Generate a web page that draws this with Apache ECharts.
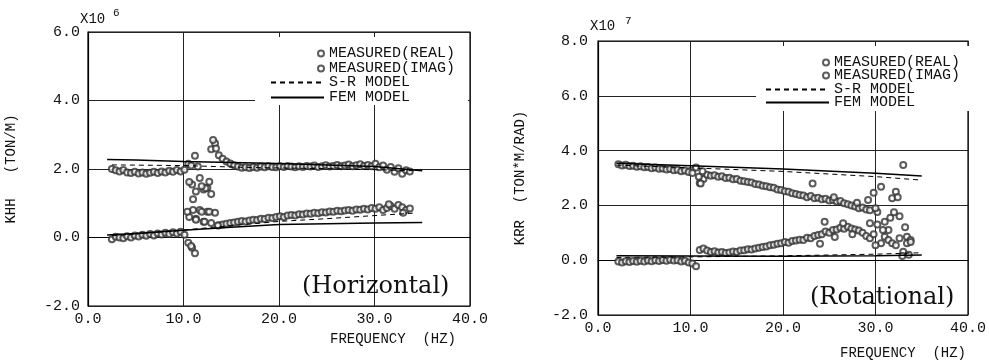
<!DOCTYPE html>
<html><head><meta charset="utf-8">
<script src="https://cdn.jsdelivr.net/npm/echarts@6/dist/echarts.min.js"></script>
<style>html,body{margin:0;padding:0;background:#fff}#c{width:989px;height:364px}</style>
</head><body><div id="c"></div><script>
// ---------- Horizontal panel (KHH, x10^6 TON/M) ----------
const hFreq = [2.5,2.9,3.3,3.7,4.1,4.5,4.9,5.3,5.7,6.1,6.5,6.9,7.3,7.7,8.1,8.5,8.9,9.3,9.7,10.1,10.5,10.9,11.3,11.7,12.1,12.5,12.9,13.3,13.7,14.1,14.5,14.9,15.3,15.7,16.1,16.5,16.9,17.3,17.7,18.1,18.5,18.9,19.3,19.7,20.1,20.5,20.9,21.3,21.7,22.1,22.5,22.9,23.3,23.7,24.1,24.5,24.9,25.3,25.7,26.1,26.5,26.9,27.3,27.7,28.1,28.5,28.9,29.3,29.7,30.1,30.5,30.9,31.3,31.7,32.1,32.5,32.9,33.3,33.7];
const hReal = [2.00,1.96,1.93,1.97,1.90,1.88,1.92,1.87,1.90,1.86,1.89,1.92,1.88,1.93,1.90,1.95,1.92,1.97,1.93,1.98,2.15,1.55,1.34,1.74,1.40,1.45,2.58,2.75,2.40,2.30,2.22,2.16,2.11,2.07,2.04,2.05,2.03,2.06,2.04,2.07,2.05,2.08,2.06,2.05,2.08,2.06,2.09,2.07,2.05,2.08,2.06,2.09,2.07,2.10,2.06,2.08,2.11,2.07,2.09,2.12,2.08,2.10,2.13,2.08,2.11,2.14,2.09,2.12,2.08,2.15,2.05,2.10,1.98,2.06,1.92,2.02,1.86,1.96,1.93];
const hImag = [-0.05,0.02,0.00,-0.02,0.04,0.00,0.06,0.03,0.08,0.05,0.10,0.06,0.12,0.09,0.14,0.10,0.15,0.12,0.17,0.08,-0.15,-0.30,0.55,0.80,0.46,0.75,0.42,0.72,0.36,0.38,0.40,0.42,0.44,0.46,0.48,0.47,0.50,0.52,0.51,0.55,0.54,0.58,0.57,0.60,0.62,0.60,0.64,0.66,0.64,0.68,0.67,0.70,0.69,0.72,0.71,0.74,0.73,0.76,0.75,0.78,0.77,0.79,0.80,0.78,0.82,0.81,0.84,0.82,0.86,0.84,0.88,0.80,0.86,0.92,0.84,0.95,0.88,0.80,0.85];
const hRealExtraF = [10.6,11.0,11.2,11.5,12.3,12.7,12.9,13.1,13.4,10.8,11.9];
const hRealExtraV = [1.62,1.12,2.39,2.07,1.44,1.63,1.27,2.85,2.60,2.10,1.50];
const hImagExtraF = [10.6,11.0,11.2,10.8,11.9,12.2,12.7,10.4,13.6,11.3,31.5,33.0];
const hImagExtraV = [0.60,0.80,-0.46,-0.25,0.75,0.46,0.75,0.75,0.35,0.52,0.97,0.72];
const hSrF = [2.5,10,16,20,25,30,34];
const hSrReal = [2.12,2.10,2.05,2.03,2.01,1.98,1.95];
const hSrImag = [0.05,0.22,0.37,0.47,0.55,0.64,0.71];
const hFemF = [2,5,10,15,20,25,30,35];
const hFemReal = [2.28,2.26,2.22,2.19,2.16,2.12,2.07,1.95];
const hFemImag = [0.07,0.12,0.21,0.30,0.38,0.40,0.42,0.44];

// ---------- Rotational panel (KRR, x10^7 TON*M/RAD) ----------
const rFreq = [2.2,2.6,3.0,3.4,3.8,4.2,4.6,5.0,5.4,5.8,6.2,6.6,7.0,7.4,7.8,8.2,8.6,9.0,9.4,9.8,10.2,10.6,11.0,11.4,11.8,12.2,12.6,13.0,13.4,13.8,14.2,14.6,15.0,15.4,15.8,16.2,16.6,17.0,17.4,17.8,18.2,18.6,19.0,19.4,19.8,20.2,20.6,21.0,21.4,21.8,22.2,22.6,23.0,23.4,23.8,24.2,24.6,25.0,25.4,25.8,26.2,26.6,27.0,27.4,27.8,28.2,28.6,29.0,29.4,29.8,30.2,30.6,31.0,31.4,31.8,32.2,32.6,33.0,33.4,33.8];
const rReal = [3.50,3.46,3.48,3.44,3.45,3.41,3.43,3.39,3.40,3.36,3.38,3.34,3.35,3.31,3.33,3.28,3.30,3.25,3.27,3.22,3.18,3.38,2.82,2.96,3.12,3.08,3.10,3.05,3.06,3.00,3.01,2.95,2.96,2.90,2.88,2.85,2.84,2.78,2.76,2.72,2.70,2.66,2.64,2.58,2.56,2.52,2.50,2.44,2.42,2.38,2.36,2.30,2.34,2.26,2.28,2.22,2.24,2.18,2.20,2.14,2.16,2.08,2.04,2.00,1.96,1.90,1.92,1.85,1.82,2.46,1.76,2.68,1.40,1.10,2.26,2.50,1.60,3.47,0.86,0.74];
const rImag = [-0.05,-0.08,-0.04,-0.07,-0.03,-0.06,-0.02,-0.05,-0.01,-0.04,0.00,-0.03,0.01,-0.02,0.02,-0.01,0.00,-0.05,-0.02,-0.08,-0.12,-0.22,0.37,0.43,0.35,0.30,0.33,0.28,0.30,0.26,0.28,0.32,0.30,0.35,0.36,0.40,0.39,0.43,0.45,0.48,0.50,0.55,0.56,0.60,0.62,0.66,0.64,0.70,0.72,0.75,0.74,0.82,0.80,0.88,0.92,0.95,1.05,1.00,1.10,1.12,1.18,1.15,1.22,1.16,1.12,1.08,1.00,0.88,0.80,0.95,1.30,0.62,0.86,0.74,0.62,0.55,0.80,0.31,0.62,0.66];
const rRealExtraF = [10.9,11.1,11.3,23.2,25.5,28.0,30.0,30.8,31.6,32.4,33.2,29.2,32.0];
const rRealExtraV = [3.05,2.80,3.25,2.80,2.30,2.10,1.90,1.10,1.55,2.30,1.20,2.20,1.75];
const rImagExtraF = [24.5,26.5,29.4,25.6,27.5,30.0,32.9,33.6,24.0];
const rImagExtraV = [1.40,1.35,1.35,0.85,0.95,0.55,0.15,0.20,0.60];
const rSrF = [2,10,20,30,34.7];
const rSrReal = [3.47,3.37,3.24,3.05,2.93];
const rSrImag = [0.10,0.12,0.16,0.22,0.27];
const rFemF = [2,10,20,30,35];
const rFemReal = [3.54,3.45,3.33,3.17,3.07];
const rFemImag = [0.16,0.15,0.14,0.16,0.19];

const NAMES = ['MEASURED(REAL)','MEASURED(IMAG)','S-R MODEL','FEM MODEL'];

// ---------- build ----------
const MONO = '"Liberation Mono", "DejaVu Sans Mono", monospace';
const INK = '#111';
const zip = (f, v) => f.map((x, i) => [x, v[i]]);

function axisX(gi){
  return {gridIndex: gi, type:'value', min:0, max:40, interval:10,
    axisLine:{show:true, lineStyle:{color:'#000', width:1.2}},
    axisTick:{show:false},
    axisLabel:{color:INK, fontFamily:MONO, fontSize:15, margin:6, formatter:v=>v.toFixed(1)},
    splitLine:{show:true, lineStyle:{color:'#222', width:1}}};
}
function axisY(gi, max, name, gap, margin){
  return {gridIndex: gi, type:'value', min:-2, max:max, interval:2,
    name:name, nameLocation:'middle', nameGap:gap,
    nameTextStyle:{color:INK, fontFamily:MONO, fontSize:14},
    axisLine:{show:true, lineStyle:{color:'#000', width:1.2}},
    axisTick:{show:false},
    axisLabel:{color:INK, fontFamily:MONO, fontSize:15, margin:margin, formatter:v=>v.toFixed(1)},
    splitLine:{show:true, lineStyle:{color:'#222', width:1}}};
}
function scatter(name, gi, data, bw){
  return {name, type:'scatter', xAxisIndex:gi, yAxisIndex:gi, data,
    symbol:'emptyCircle', symbolSize:6, itemStyle:{color:'#333', borderWidth:bw}, z:2};
}
function line(name, gi, data, dashed){
  return {name, type:'line', xAxisIndex:gi, yAxisIndex:gi, data, symbol:'none', showSymbol:false,
    lineStyle:{color:'#000', width: dashed ? 1 : 1.5, type: dashed ? [5,4] : 'solid'},
    itemStyle:{color:'#000'}, z:3};
}
function legends(textLeft, topScatter, topLines, lineStart, gap){
  const ts = {color:INK, fontFamily:MONO, fontSize:15};
  return [
    {data:[NAMES[0], NAMES[1]], orient:'vertical', left:textLeft-11, top:topScatter, padding:0,
     itemWidth:6, itemHeight:6, itemGap:gap, textStyle:ts, selectedMode:false},
    {data:[NAMES[2], NAMES[3]], orient:'vertical', left:lineStart, top:topLines, padding:0,
     itemWidth:textLeft-5-lineStart, itemHeight:2, itemGap:gap, textStyle:ts, selectedMode:false,
     itemStyle:{opacity:0}}
  ];
}

const option = {
  animation:false,
  backgroundColor:'#fff',
  grid:[
    {left:88, top:32, width:382, height:274, show:true, borderColor:'#000', borderWidth:1.2, backgroundColor:'transparent'},
    {left:598, top:41, width:379, height:274, show:true, borderColor:'#000', borderWidth:1.2, backgroundColor:'transparent'}
  ],
  xAxis:[axisX(0), axisX(1)],
  yAxis:[axisY(0, 6, 'KHH   (TON/M)', 70, 8), axisY(1, 8, 'KRR  (TON*M/RAD)', 71, 10)],
  legend:[...legends(328, 46, 75, 270, 0), ...legends(833, 55, 82, 765, -2)],
  graphic:[
    {type:'rect', shape:{x:255, y:37, width:213, height:68}, style:{fill:'#fff'}, z:1},
    {type:'rect', shape:{x:756, y:46, width:216, height:65}, style:{fill:'#fff'}, z:1},
    {type:'text', x:80, y:19, style:{text:'X10', font:'14px '+MONO, fill:INK, verticalAlign:'middle'}},
    {type:'text', x:113, y:13, style:{text:'6', font:'11px '+MONO, fill:INK, verticalAlign:'middle'}},
    {type:'text', x:590, y:26, style:{text:'X10', font:'14px '+MONO, fill:INK, verticalAlign:'middle'}},
    {type:'text', x:625, y:21, style:{text:'7', font:'11px '+MONO, fill:INK, verticalAlign:'middle'}},
    {type:'text', x:330, y:339, style:{text:'FREQUENCY  (HZ)', font:'14px '+MONO, fill:INK, verticalAlign:'middle'}},
    {type:'text', x:840, y:353, style:{text:'FREQUENCY  (HZ)', font:'14px '+MONO, fill:INK, verticalAlign:'middle'}},
    {type:'text', x:302, y:287, style:{text:'(Horizontal)', font:'24px "DejaVu Serif", serif', fill:INK, verticalAlign:'middle'}, z:5},
    {type:'text', x:810, y:298, style:{text:'(Rotational)', font:'24px "DejaVu Serif", serif', fill:INK, verticalAlign:'middle'}, z:5}
  ],
  series:[
    scatter(NAMES[0], 0, zip(hFreq, hReal).concat(zip(hRealExtraF, hRealExtraV)), 0.9),
    scatter(NAMES[1], 0, zip(hFreq, hImag).concat(zip(hImagExtraF, hImagExtraV)), 0.7),
    line(NAMES[2], 0, zip(hSrF, hSrReal), true),
    line(NAMES[2], 0, zip(hSrF, hSrImag), true),
    line(NAMES[3], 0, zip(hFemF, hFemReal), false),
    line(NAMES[3], 0, zip(hFemF, hFemImag), false),
    scatter(NAMES[0], 1, zip(rFreq, rReal).concat(zip(rRealExtraF, rRealExtraV)), 0.9),
    scatter(NAMES[1], 1, zip(rFreq, rImag).concat(zip(rImagExtraF, rImagExtraV)), 0.7),
    line(NAMES[2], 1, zip(rSrF, rSrReal), true),
    line(NAMES[2], 1, zip(rSrF, rSrImag), true),
    line(NAMES[3], 1, zip(rFemF, rFemReal), false),
    line(NAMES[3], 1, zip(rFemF, rFemImag), false)
  ]
};
const chart = echarts.init(document.getElementById('c'), null, {renderer:'canvas'});
chart.setOption(option);
</script></body></html>
